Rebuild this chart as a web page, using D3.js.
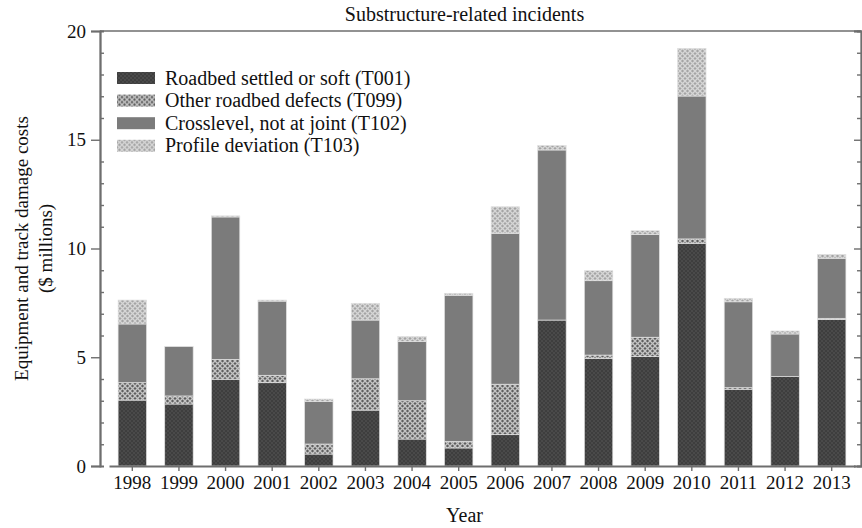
<!DOCTYPE html>
<html>
<head>
<meta charset="utf-8">
<script src="https://cdn.jsdelivr.net/npm/d3@7"></script>
<style>
    body { margin: 0; background: #fff; }
    text { font-family: "Liberation Serif", "DejaVu Serif", serif; fill: #111; }
</style>
</head>
<body>
<div id="chart" style="width:862px;height:528px;"></div>
<script>

// data, $ millions per year
let years = ["1998", "1999", "2000", "2001", "2002", "2003", "2004", "2005",
    "2006", "2007", "2008", "2009", "2010", "2011", "2012", "2013"];
let t001 = [3.03, 2.85, 3.99, 3.83, 0.55, 2.57, 1.24, 0.83, 1.44, 6.71, 4.95, 5.03, 10.24, 3.53, 4.11, 6.74];
let t099 = [0.80, 0.37, 0.91, 0.34, 0.46, 1.44, 1.76, 0.30, 2.32, 0.00, 0.15, 0.89, 0.20, 0.07, 0.00, 0.05];
let t102 = [2.70, 2.27, 6.55, 3.41, 1.95, 2.70, 2.72, 6.72, 6.94, 7.82, 3.42, 4.73, 6.57, 3.95, 1.96, 2.76];
let t103 = [1.10, 0.00, 0.05, 0.05, 0.12, 0.77, 0.23, 0.09, 1.22, 0.21, 0.46, 0.17, 2.19, 0.16, 0.14, 0.18];
let seriesNames = ["Roadbed settled or soft (T001)", "Other roadbed defects (T099)",
    "Crosslevel, not at joint (T102)", "Profile deviation (T103)"];
let yTicks = [0, 5, 10, 15, 20];

let margin = {top: 31, right: 1, bottom: 62, left: 100};
let width = 862 - margin.left - margin.right;
let height = 528 - margin.top - margin.bottom;

let svg = d3.select("#chart").append("svg")
    .attr("width", 862)
    .attr("height", 528);

// fill patterns (grey crosshatch like the print)
let defs = svg.append("defs");
function hatch(id, bg, fg, size, sw) {
    let p = defs.append("pattern")
        .attr("id", id)
        .attr("patternUnits", "userSpaceOnUse")
        .attr("width", size).attr("height", size);
    p.append("rect").attr("width", size).attr("height", size).attr("fill", bg);
    p.append("path")
        .attr("d", `M0,0L${size},${size}M${size},0L0,${size}`)
        .attr("stroke", fg).attr("stroke-width", sw);
}
hatch("p-t001", "#3e3e3e", "#4a4a4a", 4, 1);
hatch("p-t099", "#5e5e5e", "#c4c4c4", 5, 1.3);
hatch("p-t103", "#a4a4a4", "#d6d6d6", 5, 1.3);
let fills = ["url(#p-t001)", "url(#p-t099)", "#7b7b7b", "url(#p-t103)"];

let g = svg.append("g")
    .attr("transform", `translate(${margin.left}, ${margin.top})`);

// scales
let x = d3.scaleBand()
    .domain(years)
    .range([9, width - 6])
    .paddingInner(0.39)
    .paddingOuter(0.195);

let y = d3.scaleLinear()
    .domain([0, 20])
    .range([height, 0]);

// stacked data
let rows = years.map((yr, i) => ({year: yr, s0: t001[i], s1: t099[i], s2: t102[i], s3: t103[i]}));
let stack = d3.stack().keys(["s0", "s1", "s2", "s3"])(rows);

g.selectAll(".layer")
    .data(stack)
    .enter().append("g")
    .attr("class", "layer")
    .attr("fill", (d, i) => fills[i])
    .selectAll("rect")
    .data(d => d.filter(v => v[1] - v[0] > 0))
    .enter().append("rect")
    .attr("x", d => x(d.data.year))
    .attr("width", x.bandwidth())
    .attr("y", d => y(d[1]))
    .attr("height", d => y(d[0]) - y(d[1]))
    .attr("stroke", "#e2e2e2")
    .attr("stroke-width", 0.7);

// axes
let axisColor = "#6e6e6e";
let minor = d3.range(0, 21, 1);

let left = g.append("g").attr("class", "y-axis");
left.call(d3.axisLeft(y).tickValues(yTicks).tickSize(9).tickPadding(5).tickFormat(d3.format("d")));
left.append("g").call(d3.axisRight(y).tickValues(minor.filter(v => v % 5)).tickSize(4).tickFormat(""));

let right = g.append("g").attr("transform", `translate(${width}, 0)`);
right.call(d3.axisLeft(y).tickValues(yTicks).tickSize(7).tickFormat(""));
right.append("g").call(d3.axisLeft(y).tickValues(minor.filter(v => v % 5)).tickSize(4).tickFormat(""));

let bottom = g.append("g").attr("transform", `translate(0, ${height})`);
bottom.call(d3.axisBottom(x).tickSize(5).tickPadding(5).tickSizeOuter(0));

// frame top
g.append("line")
    .attr("x1", 0).attr("x2", width)
    .attr("y1", 0).attr("y2", 0);

g.selectAll(".domain, .tick line, line")
    .attr("stroke", axisColor)
    .attr("stroke-width", 1.4);
g.selectAll(".domain").attr("stroke-width", 1.8);
g.selectAll(".tick text")
    .attr("font-size", 19)
    .attr("font-family", "Liberation Serif")
    .attr("fill", "#111");

// title and axis labels
svg.append("text")
    .attr("x", margin.left + width / 2 - 16).attr("y", 21)
    .attr("text-anchor", "middle")
    .attr("font-size", 20)
    .text("Substructure-related incidents");

svg.append("text")
    .attr("x", margin.left + width / 2 - 16).attr("y", 522)
    .attr("text-anchor", "middle")
    .attr("font-size", 20)
    .text("Year");

let ylab = svg.append("text")
    .attr("transform", `translate(28, ${margin.top + height / 2}) rotate(-90)`)
    .attr("text-anchor", "middle")
    .attr("font-size", 19);
ylab.append("tspan").attr("x", 0).attr("dy", 0).text("Equipment and track damage costs");
ylab.append("tspan").attr("x", 0).attr("dy", 24).text("($ millions)");

// legend
let legend = svg.append("g")
    .attr("transform", "translate(117, 72)");
let items = legend.selectAll(".item")
    .data(seriesNames)
    .enter().append("g")
    .attr("transform", (d, i) => `translate(0, ${i * 22.6})`);
items.append("rect")
    .attr("width", 38).attr("height", 12)
    .attr("fill", (d, i) => fills[i]);
items.append("text")
    .attr("x", 48).attr("y", 12.5)
    .attr("font-size", 20)
    .text(d => d);

</script>
</body>
</html>
